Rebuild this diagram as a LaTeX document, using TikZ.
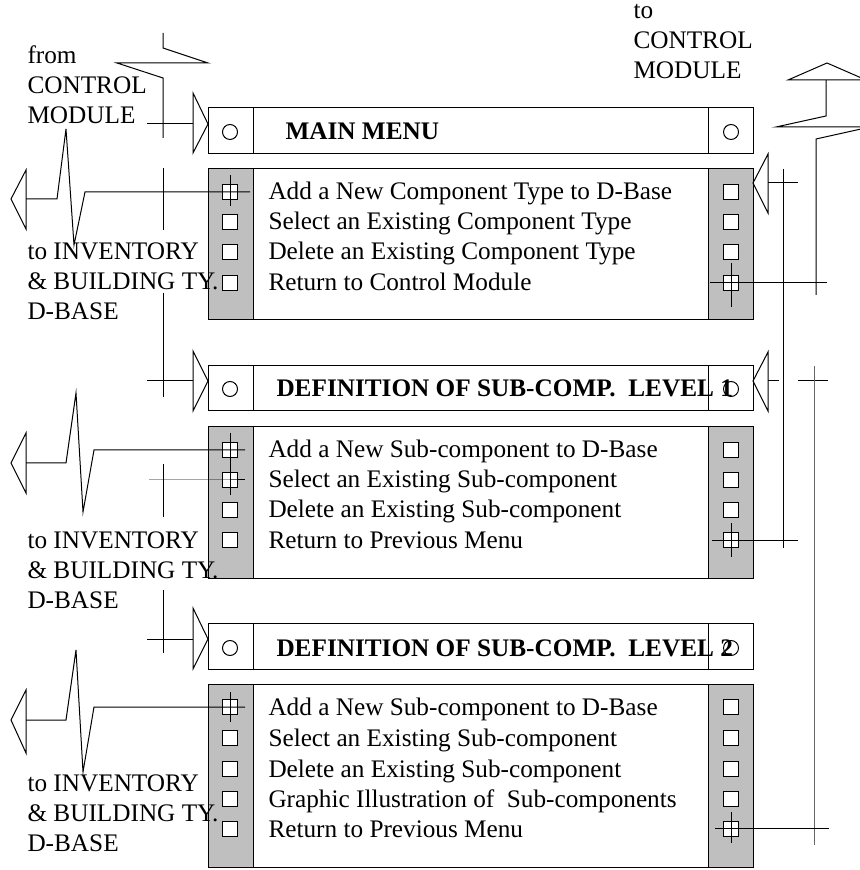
\documentclass[tikz,border=0pt]{standalone}
\usepackage{fontspec}
\setmainfont{Liberation Serif}
\usetikzlibrary{positioning}

\begin{document}
\begin{tikzpicture}[
    x=0.4pt,y=-0.4pt,
    txt/.style={anchor=base west,inner sep=0pt,font=\fontsize{10.1}{12}\selectfont},
    lbl/.style={txt,align=left},
    hdtxt/.style={txt,font=\fontsize{10.1}{12}\selectfont\bfseries},
    chk/.style={draw,fill=white,minimum size=6pt,inner sep=0pt},
    rad/.style={draw,circle,minimum size=6pt,inner sep=0pt},
    col/.style={draw,fill=gray!50}
]
\useasboundingbox (0,0) rectangle (859,870);

% main menu
\draw (208,108) rectangle (753,154) (253,108) -- (253,154) (708,108) -- (708,154);
\node[rad] (mainL) at (230,132) {};
\node[rad] (mainR) at (731,132) {};
\node[hdtxt] (mainT) at (285,140) {MAIN MENU};
\draw[col] (208,169) rectangle (253,320) (708,169) rectangle (753,320);
\draw (208,169) rectangle (753,320);
\foreach \r/\y in {1/192,2/222,3/252,4/283}{
  \node[chk] (mL\r) at (230,\y) {};
  \node[chk] (mR\r) at (731,\y) {};
}
\node[txt] (m1) at (268,200) {Add a New Component Type to D-Base};
\node[txt] (m2) at (268,230) {Select an Existing Component Type};
\node[txt] (m3) at (268,260) {Delete an Existing Component Type};
\node[txt] (m4) at (268,291) {Return to Control Module};

% sub-component level 1
\draw (208,366) rectangle (753,411) (253,366) -- (253,411) (708,366) -- (708,411);
\node[rad] (oneL) at (230,389) {};
\node[rad] (oneR) at (731,389) {};
\node[hdtxt] (oneT) at (276,397) {DEFINITION OF SUB-COMP.\ \ LEVEL 1};
\draw[col] (208,427) rectangle (253,578) (708,427) rectangle (753,578);
\draw (208,427) rectangle (753,578);
\foreach \r/\y in {1/450,2/480,3/510,4/540}{
  \node[chk] (dL\r) at (230,\y) {};
  \node[chk] (dR\r) at (731,\y) {};
}
\node[txt] (d1) at (268,458) {Add a New Sub-component to D-Base};
\node[txt] (d2) at (268,488) {Select an Existing Sub-component};
\node[txt] (d3) at (268,518) {Delete an Existing Sub-component};
\node[txt] (d4) at (268,548) {Return to Previous Menu};

% sub-component level 2
\draw (208,623) rectangle (753,669) (253,623) -- (253,669) (708,623) -- (708,669);
\node[rad] (twoL) at (230,648) {};
\node[rad] (twoR) at (731,648) {};
\node[hdtxt] (twoT) at (276,656) {DEFINITION OF SUB-COMP.\ \ LEVEL 2};
\draw[col] (208,684) rectangle (253,867) (708,684) rectangle (753,867);
\draw (208,684) rectangle (753,867);
\foreach \r/\y in {1/707,2/738,3/769,4/799,5/829}{
  \node[chk] (eL\r) at (230,\y) {};
  \node[chk] (eR\r) at (731,\y) {};
}
\node[txt] (e1) at (268,715) {Add a New Sub-component to D-Base};
\node[txt] (e2) at (268,746) {Select an Existing Sub-component};
\node[txt] (e3) at (268,777) {Delete an Existing Sub-component};
\node[txt] (e4) at (268,807) {Graphic Illustration of\ \ Sub-components};
\node[txt] (e5) at (268,837) {Return to Previous Menu};

% labels (base = last line)
\node[lbl] (fromCM) at (27,124) {from\\CONTROL\\MODULE};
\node[lbl] (toCM) at (633,79) {to\\CONTROL\\MODULE};
\node[lbl] (invA) at (27,320) {to INVENTORY\\\& BUILDING TY.\\D-BASE};
\node[lbl] (invB) at (27,608) {to INVENTORY\\\& BUILDING TY.\\D-BASE};
\node[lbl] (invC) at (27,851) {to INVENTORY\\\& BUILDING TY.\\D-BASE};

% left connectors
\coordinate (inMain) at (208,132);
\coordinate (inOne) at (208,389);
\coordinate (inTwo) at (208,646);
\draw (163,33) -- (163,48) -- (208,63) -- (117,63) -- (163,78) -- (163,138);
\draw (inMain) ++(-15,-39) -- (inMain |- 0,124) -- ++(-15,29) -- cycle;
\draw (147,124) -- (193,124);
\draw (163,168) -- (163,230);
\draw (26,170) -- (11,199) -- (26,229) -- cycle;
\draw (26,199) -- (57,199) -- (66,129) -- (74,245) -- (85,192) -- (mL1.center) -- ++(20,0);
\draw (mL1.center) ++(0,-17) -- ++(0,31);

\draw (163,293) -- (163,397);
\draw (inOne) ++(-15,-38) -- (inOne |- 0,381) -- ++(-15,30) -- cycle;
\draw (147,381) -- (193,381);
\draw (26,433) -- (11,463) -- (26,493) -- cycle;
\draw (26,463) -- (66,463) -- (76,393) -- (83,512) -- (94,450) -- (dL1.center) -- ++(15,0);
\draw (149,480) -- (dL2.center) -- ++(15,0);
\draw (dL1.center) ++(0,-17) -- ++(0,62);
\draw (163,464) -- (163,517);

\draw (163,590) -- (163,653);
\draw (inTwo) ++(-15,-38) -- (inTwo |- 0,639) -- ++(-15,30) -- cycle;
\draw (147,639) -- (193,639);
\draw (26,690) -- (11,720) -- (26,753) -- cycle;
\draw (26,720) -- (66,720) -- (76,650) -- (83,772) -- (94,707) -- (eL1.center) -- ++(15,0);
\draw (eL1.center) ++(0,-15) -- ++(0,30);

% right connectors
\draw (788,80) -- (827,63) -- (866,80) -- cycle;
\draw (826,80) -- (826,116) -- (776,127) -- (870,127) -- (816,139) -- (816,295);
\draw (753,183) -- (768,154) -- (768,213) -- cycle;
\draw (768,183) -- (798,183);
\draw (783,169) -- (783,548);
\draw (mR4.center) ++(-21,0) -- ++(117,0);
\draw (mR4.center) ++(0,-20) -- ++(0,44);

\draw (753,381) -- (768,352) -- (768,411) -- cycle;
\draw (768,381) -- (779,381);
\draw (798,381) -- (828,381);
\draw[black!60] (814,366) -- (814,845);
\draw (dR4.center) ++(-19,0) -- ++(86,0);
\draw (dR4.center) ++(0,-17) -- ++(0,34);

\draw (eR5.center) ++(-16,-1) -- ++(114,0);
\draw (eR5.center) ++(0,-17) -- ++(0,31);
\end{tikzpicture}
\end{document}
